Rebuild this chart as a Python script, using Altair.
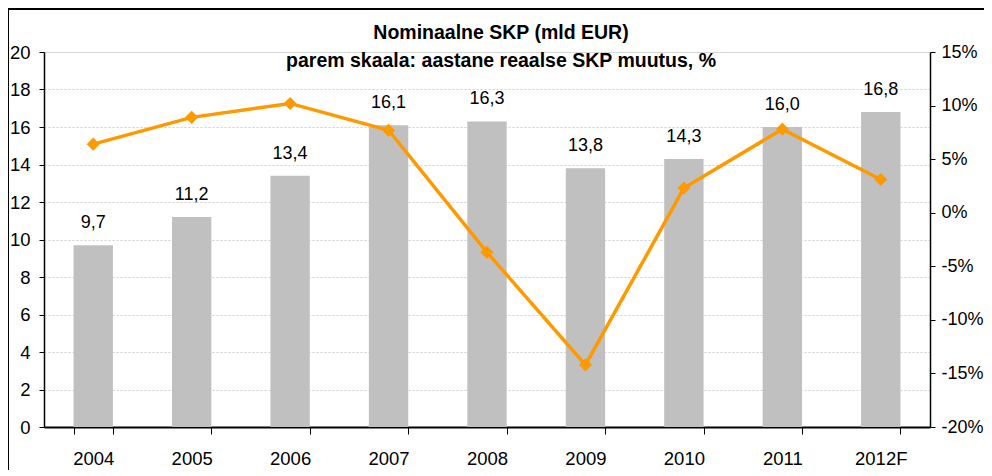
import altair as alt
import pandas as pd

years = ["2004", "2005", "2006", "2007", "2008", "2009", "2010", "2011", "2012F"]
gdp_nominal = [9.7, 11.2, 13.4, 16.1, 16.3, 13.8, 14.3, 16.0, 16.8]
real_growth = [6.4, 8.9, 10.2, 7.7, -3.7, -14.2, 2.3, 7.8, 3.1]
left_ticks = [0, 2, 4, 6, 8, 10, 12, 14, 16, 18, 20]
right_ticks = [-20, -15, -10, -5, 0, 5, 10, 15]
title_lines = ["Nominaalne SKP (mld EUR)", "parem skaala: aastane reaalse SKP muutus, %"]

df = pd.DataFrame({"year": years, "gdp": gdp_nominal, "growth": real_growth})

FONT = "Liberation Sans"
W, H = 886, 375

x_axis = alt.Axis(
    labelAngle=0,
    tickBand="extent",
    tickSize=7,
    tickColor="black",
    domainColor="black",
    domainWidth=2,
    labelPadding=15,
    labelFontSize=18.5,
    labelColor="black",
    labelFont=FONT,
    labelOverlap=False,
    grid=False,
)
x_enc = alt.X(
    "year:N",
    sort=years,
    title=None,
    scale=alt.Scale(paddingInner=0.6, paddingOuter=0.3),
    axis=x_axis,
)

left_axis = alt.Axis(
    values=left_ticks,
    orient="left",
    grid=True,
    gridColor="#cfcfcf",
    gridDash=[2, 2],
    gridWidth=1,
    tickSize=5,
    tickColor="black",
    domainColor="black",
    domainWidth=1.5,
    labelPadding=9,
    labelFontSize=18.5,
    labelColor="black",
    labelFont=FONT,
    labelOverlap=False,
)
left_y = alt.Y("gdp:Q", title=None, scale=alt.Scale(domain=[0, 20], nice=False), axis=left_axis)

right_axis = alt.Axis(
    values=right_ticks,
    orient="right",
    grid=False,
    tickSize=5,
    tickColor="black",
    domainColor="black",
    domainWidth=1.5,
    labelPadding=6,
    labelFontSize=18,
    labelColor="black",
    labelFont=FONT,
    labelOverlap=False,
    labelExpr="datum.value + '%'",
)
right_y = alt.Y("growth:Q", title=None, scale=alt.Scale(domain=[-20, 15], nice=False), axis=right_axis)

base = alt.Chart(df)

bars = base.mark_bar(color="#C0C0C0").encode(x=x_enc, y=left_y)

labels = base.transform_calculate(
    lab="replace(format(datum.gdp, '.1f'), '.', ',')"
).mark_text(
    baseline="alphabetic", dy=-17, fontSize=18, font=FONT, color="black"
).encode(x=x_enc, y=left_y, text="lab:N")

left = alt.layer(bars, labels)

line = base.mark_line(color="#FF9900", strokeWidth=3.5).encode(x=x_enc, y=right_y)

points = base.mark_point(
    shape="diamond", filled=True, color="#FF9900", size=170, opacity=1
).encode(x=x_enc, y=right_y)

right = alt.layer(line, points)

one = pd.DataFrame({"k": [0]})

border = alt.Chart(one).mark_rect(
    fillOpacity=0, stroke="black", strokeWidth=2
).encode(
    x=alt.value(-36),
    x2=alt.value(W + 300),
    y=alt.value(-43),
    y2=alt.value(H + 300),
)

title1 = alt.Chart(one).mark_text(
    text=title_lines[0], fontSize=19.5, font=FONT, fontWeight="bold",
    color="black", baseline="alphabetic", align="center"
).encode(x=alt.value(457), y=alt.value(-13))

title2 = alt.Chart(one).mark_text(
    text=title_lines[1], fontSize=19.5, font=FONT, fontWeight="bold",
    color="black", baseline="alphabetic", align="center"
).encode(x=alt.value(457), y=alt.value(15))

chart = (
    alt.layer(left, right, border, title1, title2)
    .resolve_scale(y="independent")
    .properties(
        width=W,
        height=H,
        autosize=alt.AutoSizeParams(type="none"),
        padding={"left": 36, "top": 44, "right": 54, "bottom": 43},
    )
    .configure_view(stroke=None)
    .configure(background="white")
)

chart.save("out.html", embed_options={"renderer": "svg", "actions": False})
